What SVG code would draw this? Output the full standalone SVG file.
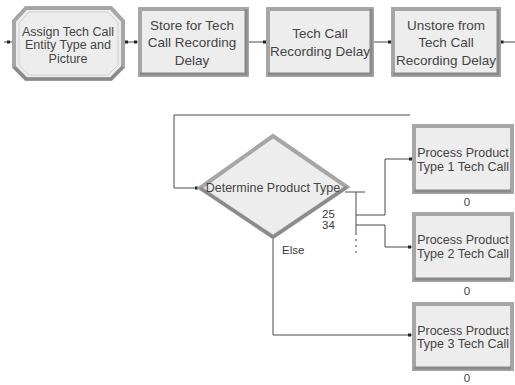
<svg xmlns="http://www.w3.org/2000/svg" width="515" height="385" viewBox="0 0 515 385">
<style>
  .bg{fill:#ffffff}
  .box{fill:#ededed;stroke:#a6a6a6;stroke-width:4}
  .shadow{fill:none;stroke:#8a8a8a;stroke-width:3}
  .inner{fill:none;stroke:#d0d0d0;stroke-width:1}
  .t{font-family:"Liberation Sans",Arial,sans-serif;fill:#444444;text-anchor:middle}
  .t13{font-size:13.5px}
  .t12{font-size:12.5px}
  .t11{font-size:11.5px}
  .lbl{font-family:"Liberation Sans",Arial,sans-serif;fill:#3a3a3a;font-size:11.5px}
  .c{fill:none;stroke:#4a4a4a;stroke-width:1}
  .pt{fill:#222}
</style>
<rect class="bg" x="0" y="0" width="515" height="385"/>

<g id="connectors">
  <line class="c" x1="4" y1="42" x2="13" y2="42"/>
  <rect class="pt" x="7" y="40.5" width="3" height="3"/>
  <line class="c" x1="123" y1="42" x2="138" y2="42"/>
  <rect class="pt" x="125" y="40.5" width="3" height="3"/>
  <rect class="pt" x="134" y="40.5" width="3" height="3"/>
  <line class="c" x1="248" y1="42" x2="267" y2="42"/>
  <rect class="pt" x="263" y="40.5" width="3" height="3"/>
  <line class="c" x1="373" y1="42" x2="392" y2="42"/>
  <rect class="pt" x="388" y="40.5" width="3" height="3"/>
  <line class="c" x1="500" y1="42" x2="515" y2="42"/>
  <rect class="pt" x="501" y="40.5" width="2.5" height="3"/>
  <polyline class="c" points="410,115 174,115 174,188 200,188"/>
  <rect class="pt" x="195" y="186.5" width="3" height="3"/>
  <line class="c" x1="345" y1="192" x2="365" y2="192"/>
  <line class="c" x1="356" y1="192" x2="356" y2="235"/>
  <circle class="pt" cx="356" cy="240" r="0.8"/>
  <circle class="pt" cx="356" cy="246" r="0.8"/>
  <circle class="pt" cx="356" cy="252" r="0.8"/>
  <polyline class="c" points="356,215 385,215 385,159 413,159"/>
  <rect class="pt" x="409" y="157.5" width="3" height="3"/>
  <polyline class="c" points="356,225 385,225 385,247 412,247"/>
  <rect class="pt" x="408" y="245.5" width="3" height="3"/>
  <polyline class="c" points="273,237 273,335 412,335"/>
  <rect class="pt" x="408" y="333.5" width="3" height="3"/>
  <text class="lbl" x="322" y="218">25</text>
  <text class="lbl" x="322" y="229">34</text>
  <text class="lbl" x="282" y="254">Else</text>
</g>

<g id="assign">
  <polygon class="box" points="26,8 111,8 123,21 123,67 111,79 26,79 14,67 14,21"/>
  <polyline class="shadow" points="14,67 26,79 111,79 123,67"/>
  <polygon class="inner" points="29,12 108,12 118,23 118,65 108,75 29,75 19,65 19,23"/>
  <text class="t t12" x="68" y="36">Assign Tech Call</text>
  <text class="t t12" x="68" y="49">Entity Type and</text>
  <text class="t t12" x="68" y="63">Picture</text>
</g>

<g id="store">
  <rect class="box" x="140" y="9" width="107" height="66"/>
  <polyline class="shadow" points="140,74 246,74 246,9"/>
  <text class="t t13" x="192" y="30">Store for Tech</text>
  <text class="t t13" x="192" y="47">Call Recording</text>
  <text class="t t13" x="192" y="65">Delay</text>
</g>

<g id="delay">
  <rect class="box" x="268" y="9" width="104" height="66"/>
  <polyline class="shadow" points="268,74 371,74 371,9"/>
  <text class="t t13" x="320" y="38">Tech Call</text>
  <text class="t t13" x="320" y="56">Recording Delay</text>
</g>

<g id="unstore">
  <rect class="box" x="393" y="9" width="106" height="66"/>
  <polyline class="shadow" points="393,74 498,74 498,9"/>
  <text class="t t13" x="446" y="30">Unstore from</text>
  <text class="t t13" x="446" y="47">Tech Call</text>
  <text class="t t13" x="446" y="65">Recording Delay</text>
</g>

<g id="decide">
  <polygon points="200,188 273,136 347,187 273,237" fill="#ededed" stroke="#a6a6a6" stroke-width="4"/>
  <polyline class="shadow" points="347,187 273,237 200,188"/>
  <text class="t t12" x="273" y="192">Determine Product Type</text>
</g>

<g id="process1">
  <rect class="box" x="414" y="126" width="98" height="66"/>
  <polyline class="shadow" points="414,191 511,191"/>
  <text class="t t12" x="463" y="157">Process Product</text>
  <text class="t t12" x="463" y="171">Type 1 Tech Call</text>
  <text class="t t11" x="467" y="206">0</text>
</g>

<g id="process2">
  <rect class="box" x="414" y="214" width="98" height="66"/>
  <polyline class="shadow" points="414,279 511,279"/>
  <text class="t t12" x="463" y="244">Process Product</text>
  <text class="t t12" x="463" y="258">Type 2 Tech Call</text>
  <text class="t t11" x="467" y="295">0</text>
</g>

<g id="process3">
  <rect class="box" x="414" y="304" width="98" height="65"/>
  <polyline class="shadow" points="414,368 511,368"/>
  <text class="t t12" x="463" y="335">Process Product</text>
  <text class="t t12" x="463" y="348">Type 3 Tech Call</text>
  <text class="t t11" x="467" y="382">0</text>
</g>
</svg>
